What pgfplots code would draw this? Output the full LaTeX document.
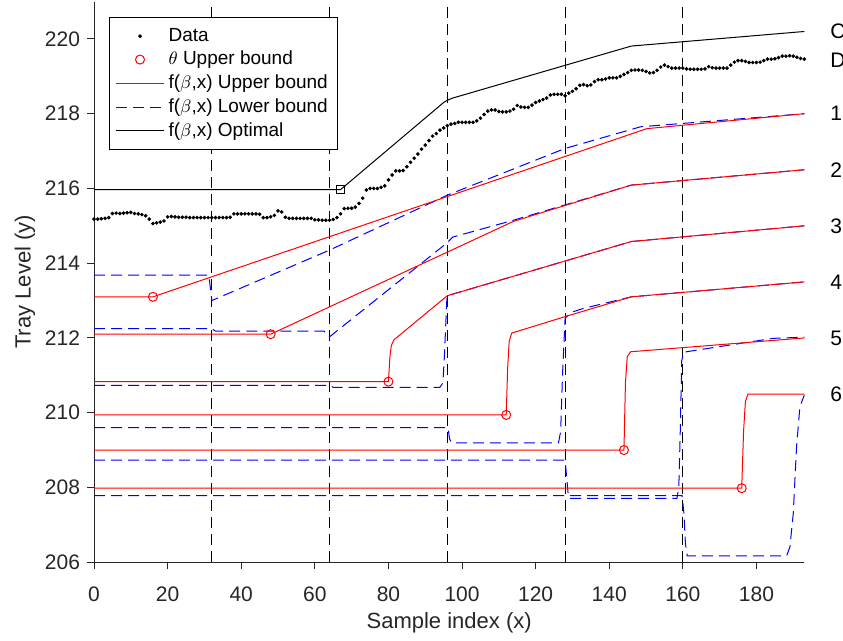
\documentclass[border=0pt]{standalone}
\usepackage{pgfplots}
\pgfplotsset{compat=1.18}
\usepackage{pgfplotstable}
\usepackage{fontspec}
\setmainfont{Liberation Sans}
\definecolor{axgray}{rgb}{0.15,0.15,0.15}
\pgfplotstableread{
x y
0 215.18
1 215.18
2 215.19
3 215.20
4 215.22
5 215.33
6 215.34
7 215.33
8 215.34
9 215.35
10 215.36
11 215.33
12 215.32
13 215.30
14 215.27
15 215.18
16 215.06
17 215.08
18 215.10
19 215.13
20 215.24
21 215.25
22 215.24
23 215.23
24 215.23
25 215.23
26 215.22
27 215.22
28 215.22
29 215.22
30 215.22
31 215.22
32 215.22
33 215.22
34 215.22
35 215.22
36 215.22
37 215.23
38 215.32
39 215.32
40 215.32
41 215.32
42 215.32
43 215.32
44 215.32
45 215.31
46 215.22
47 215.22
48 215.24
49 215.28
50 215.40
51 215.37
52 215.23
53 215.20
54 215.20
55 215.20
56 215.20
57 215.20
58 215.20
59 215.20
60 215.16
61 215.16
62 215.15
63 215.15
64 215.15
65 215.17
66 215.22
67 215.32
68 215.46
69 215.47
70 215.47
71 215.50
72 215.60
73 215.74
74 215.96
75 216.00
76 216.00
77 216.00
78 216.03
79 216.07
80 216.23
81 216.36
82 216.47
83 216.47
84 216.48
85 216.58
86 216.70
87 216.81
88 216.92
89 217.05
90 217.16
91 217.28
92 217.40
93 217.47
94 217.56
95 217.62
96 217.68
97 217.72
98 217.74
99 217.77
100 217.77
101 217.77
102 217.77
103 217.77
104 217.81
105 217.88
106 217.98
107 218.07
108 218.10
109 218.10
110 218.06
111 218.05
112 218.05
113 218.07
114 218.12
115 218.22
116 218.18
117 218.17
118 218.17
119 218.23
120 218.30
121 218.34
122 218.38
123 218.42
124 218.50
125 218.52
126 218.52
127 218.52
128 218.48
129 218.55
130 218.60
131 218.67
132 218.76
133 218.78
134 218.75
135 218.77
136 218.86
137 218.91
138 218.91
139 218.93
140 218.96
141 218.96
142 218.96
143 219.00
144 219.05
145 219.10
146 219.16
147 219.17
148 219.17
149 219.16
150 219.13
151 219.09
152 219.10
153 219.16
154 219.25
155 219.30
156 219.26
157 219.22
158 219.22
159 219.22
160 219.22
161 219.20
162 219.19
163 219.19
164 219.19
165 219.19
166 219.20
167 219.26
168 219.23
169 219.22
170 219.22
171 219.22
172 219.22
173 219.30
174 219.38
175 219.42
176 219.42
177 219.40
178 219.37
179 219.37
180 219.37
181 219.38
182 219.42
183 219.46
184 219.46
185 219.47
186 219.50
187 219.54
188 219.54
189 219.55
190 219.54
191 219.51
192 219.48
193 219.46
}\datatable
\begin{document}
\begin{tikzpicture}
\begin{axis}[
  scale only axis, width=355pt, height=280.2pt,
  xmin=0, xmax=193, ymin=206, ymax=221,
  xtick={0,20,...,180}, ytick={206,208,...,220},
  axis x line*=bottom, axis y line*=left,
  tick align=outside, major tick length=3.5pt,
  axis line style={color=axgray, line width=0.5pt},
  tick style={color=axgray, line width=0.5pt},
  ticklabel style={font=\fontsize{10.5}{12}\selectfont, text=axgray},
  xticklabel style={yshift=-5.5pt},
  /pgf/number format/assume math mode=true,
  xlabel={Sample index (x)}, ylabel={Tray Level (y)},
  label style={font=\fontsize{11}{13}\selectfont, text=axgray},
  xlabel style={at={(axis description cs:0.5,-0.1089)}, anchor=center},
  ylabel style={at={(axis description cs:-0.0972,0.5)}, anchor=center},
  clip=false,
  legend style={at={(0.0211,0.9725)}, anchor=north west, draw=black, line width=0.5pt,
    fill=white, font=\fontsize{9.5}{11}\selectfont, cells={anchor=west},
    inner xsep=3pt, inner ysep=3.3pt, row sep=-0.5pt},
  legend image code/.code={\draw[mark repeat=2,mark phase=2,#1] plot coordinates {(0pt,0pt) (12pt,0pt) (24pt,0pt)};},
]
\coordinate (SW) at (rel axis cs:0,0);
\coordinate (NE) at (rel axis cs:1,1);
\addlegendimage{only marks, mark=*, mark size=0.7pt, black}
\addlegendimage{only marks, mark=o, mark size=2.25pt, red, mark options={line width=0.5pt}}
\addlegendimage{red, line width=0.5pt}
\addlegendimage{blue, line width=0.5pt, dash pattern=on 5.5pt off 3pt}
\addlegendimage{black, line width=0.5pt}
\legend{Data,{$\theta$ Upper bound},{f($\beta$,x) Upper bound},{f($\beta$,x) Lower bound},{f($\beta$,x) Optimal}}

% vertical dashed lines
\pgfplotsinvokeforeach{32,64,96,128,160}{
  \addplot[black, line width=0.5pt, dash pattern=on 5.5pt off 3pt, forget plot] coordinates {(#1,206) (#1,221)};
}

% data
\addplot[only marks, mark=*, mark size=0.7pt, black, forget plot] table[x=x,y=y] {\datatable};

% optimal
\addplot[black, line width=0.5pt, forget plot] coordinates {(0,215.97) (67,215.97) (95,218.30) (96,218.36) (97.5,218.42) (146,219.81) (193,220.20)};
\addplot[black, only marks, mark=square, mark size=2.1pt, mark options={line width=0.5pt}, forget plot] coordinates {(67,215.97)};

% lower bounds (blue dashed)
\pgfplotsset{lb/.style={blue, line width=0.5pt, dash pattern=on 5.5pt off 3pt, forget plot}}
\addplot[lb] coordinates {(0,213.68) (31.2,213.68) (32,213.00) (64,214.35) (96,215.82) (128,217.07) (148.5,217.65) (193,218.00)};
\addplot[lb] coordinates {(0,212.25) (32,212.25) (33,212.18) (62.5,212.18) (64,212.03) (96,214.55) (97.5,214.70) (114,215.15) (128,215.56) (146,216.09) (193,216.50)};
\addplot[lb] coordinates {(0,210.73) (64,210.73) (65,210.68) (94,210.68) (94.8,210.80) (95.2,211.50) (95.9,213.10) (96,213.13) (146,214.58) (193,215.00)};
\addplot[lb] coordinates {(0,209.60) (96.2,209.60) (96.6,209.30) (97.2,209.19) (126.2,209.19) (126.8,209.50) (127.3,211.00) (128,212.52) (129.5,212.68) (133,212.79) (146,213.10) (193,213.50)};
\addplot[lb] coordinates {(0,208.73) (128,208.73) (128.5,208.20) (128.9,207.75) (129.4,207.71) (158.4,207.71) (158.9,208.00) (159.3,209.50) (159.7,211.40) (160.3,211.62) (184.6,211.99) (193,212.02)};
\addplot[lb] coordinates {(0,207.78) (159.8,207.78) (160.3,207.30) (160.7,206.50) (161.2,206.17) (188.2,206.17) (189.1,206.41) (190.0,207.30) (190.9,209.09) (191.8,210.16) (193,210.47)};

% upper bounds (red)
\pgfplotsset{ub/.style={red, line width=0.5pt, forget plot}}
\addplot[ub] coordinates {(0,213.10) (16,213.10) (150.2,217.60) (193,218.00)};
\addplot[ub] coordinates {(0,212.10) (48,212.10) (114,215.12) (146,216.09) (193,216.50)};
\addplot[ub] coordinates {(0,210.83) (80,210.83) (80.4,211.50) (80.8,211.80) (81.5,211.95) (96,213.13) (146,214.58) (193,215.00)};
\addplot[ub] coordinates {(0,209.94) (112,209.94) (112.4,211.20) (112.8,211.90) (113.5,212.13) (128,212.57) (146,213.10) (193,213.50)};
\addplot[ub] coordinates {(0,209.00) (144,209.00) (144.4,210.80) (144.9,211.50) (145.8,211.63) (193,212.00)};
\addplot[ub] coordinates {(0,207.98) (176,207.98) (176.5,209.50) (177,210.30) (177.7,210.50) (193,210.50)};
\addplot[red, only marks, mark=o, mark size=2.25pt, mark options={line width=0.5pt}, forget plot] coordinates {(16,213.10) (48,212.10) (80,210.83) (112,209.94) (144,209.00) (176,207.98)};

% end labels
\begin{scope}[every node/.style={anchor=west, inner sep=0pt, font=\fontsize{10.5}{12}\selectfont}]
\node at (axis cs:200,220.20) {C};
\node at (axis cs:200,219.44) {D};
\node at (axis cs:200,218.00) {1};
\node at (axis cs:200,216.50) {2};
\node at (axis cs:200,215.00) {3};
\node at (axis cs:200,213.50) {4};
\node at (axis cs:200,212.00) {5};
\node at (axis cs:200,210.50) {6};
\end{scope}
\end{axis}
\pgfresetboundingbox
\path[use as bounding box] ([xshift=-47pt,yshift=-39pt]SW) rectangle ([xshift=19.35pt,yshift=0.8pt]NE);
\end{tikzpicture}
\end{document}
